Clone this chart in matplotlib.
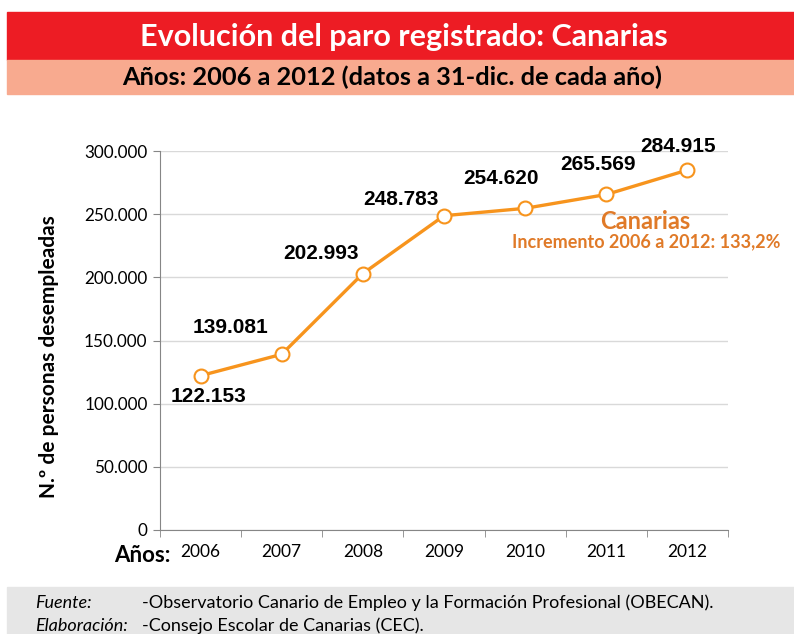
import matplotlib
matplotlib.use("Agg")
import matplotlib.pyplot as plt
from matplotlib.patches import Rectangle

# datos: paro registrado en Canarias a 31-dic.
years = ["2006", "2007", "2008", "2009", "2010", "2011", "2012"]
parados = [122153, 139081, 202993, 248783, 254620, 265569, 284915]
labels = ["122.153", "139.081", "202.993", "248.783", "254.620", "265.569", "284.915"]
yticks = [0, 50000, 100000, 150000, 200000, 250000, 300000]
yticklabels = ["0", "50.000", "100.000", "150.000", "200.000", "250.000", "300.000"]

# label offsets in pixels (dx, dy)
offsets = [(8, -21), (-51, 27), (-42, 20), (-43, 16), (-24, 30), (-8, 30), (-9, 24)]

LINE = "#F7941D"
TXT_OR = "#E07A28"
W, H = 794, 634

fig = plt.figure(figsize=(W / 100, H / 100), dpi=100)
FONT = ["Lato", "DejaVu Sans"]


def box(x0, y0, x1, y1, color):
    fig.patches.append(Rectangle((x0 / W, 1 - y1 / H), (x1 - x0) / W, (y1 - y0) / H,
                                 transform=fig.transFigure, color=color, zorder=0))


box(7, 12, 794, 60, "#ED1C24")
box(7, 60, 794, 94, "#F8AA8F")
box(7, 587, 794, 634, "#E6E6E6")

fig.text(404 / W, 1 - 37 / H, "Evolución del paro registrado: Canarias", color="white",
         fontsize=22, fontweight="bold", family=FONT, ha="center", va="center")
fig.text(392 / W, 1 - 77 / H, "Años: 2006 a 2012 (datos a 31-dic. de cada año)", color="black",
         fontsize=18.3, fontweight="bold", family=FONT, ha="center", va="center")

ax = fig.add_axes([160 / W, 1 - 530 / H, (728 - 160) / W, (530 - 151) / H])
x = list(range(len(years)))
ax.plot(x, parados, "-o", color=LINE, lw=2.4, ms=10, mfc="white", mec=LINE, mew=1.5,
        zorder=5, clip_on=False)
for xi, yi, lab, (dx, dy) in zip(x, parados, labels, offsets):
    ax.annotate(lab, (xi, yi), textcoords="offset pixels", xytext=(dx, dy), ha="center",
                va="center", fontsize=15, fontweight="bold", family="Liberation Sans")

ax.set_xlim(-0.5, 6.5)
ax.set_ylim(0, 300000)
ax.set_yticks(yticks)
ax.set_yticklabels(yticklabels, family=FONT, fontsize=12.3)
ax.set_xticks(x)
ax.set_xticklabels(years, family=FONT, fontsize=12.5)
ax.set_xticks([i - 0.5 for i in range(len(years) + 1)], minor=True)
ax.tick_params(axis="x", which="major", length=0, pad=10)
ax.tick_params(axis="x", which="minor", length=5, direction="out", color="#868686")
ax.tick_params(axis="y", length=5, color="#868686", pad=4)
ax.grid(True, axis="y", color="#D9D9D9", lw=1)
ax.set_axisbelow(True)
for s in ["top", "right"]:
    ax.spines[s].set_visible(False)
for s in ["left", "bottom"]:
    ax.spines[s].set_color("#868686")
ax.set_ylabel("N.º de personas desempleadas", fontsize=15, fontweight="bold", family=FONT)
ax.yaxis.set_label_coords(-101 / (728 - 160), (530 - 357) / (530 - 151))

fig.text(142 / W, 1 - 555 / H, "Años:", fontsize=16, fontweight="bold", family=FONT,
         ha="center", va="center")

fig.text(645 / W, 1 - 221 / H, "Canarias", color=TXT_OR, fontsize=17, fontweight="bold",
         family=FONT, ha="center", va="center")
fig.text(646 / W, 1 - 242 / H, "Incremento 2006 a 2012: 133,2%", color=TXT_OR, fontsize=13,
         fontweight="bold", family=FONT, ha="center", va="center")

fig.text(35 / W, 1 - 603 / H, "Fuente:", fontsize=13, style="italic", family=FONT, va="center")
fig.text(142 / W, 1 - 603 / H,
         "-Observatorio Canario de Empleo y la Formación Profesional (OBECAN).",
         fontsize=13, family=FONT, va="center")
fig.text(35 / W, 1 - 626 / H, "Elaboración:", fontsize=13, style="italic", family=FONT, va="center")
fig.text(142 / W, 1 - 626 / H, "-Consejo Escolar de Canarias (CEC).", fontsize=13, family=FONT,
         va="center")

fig.savefig("out.png", dpi=100)
